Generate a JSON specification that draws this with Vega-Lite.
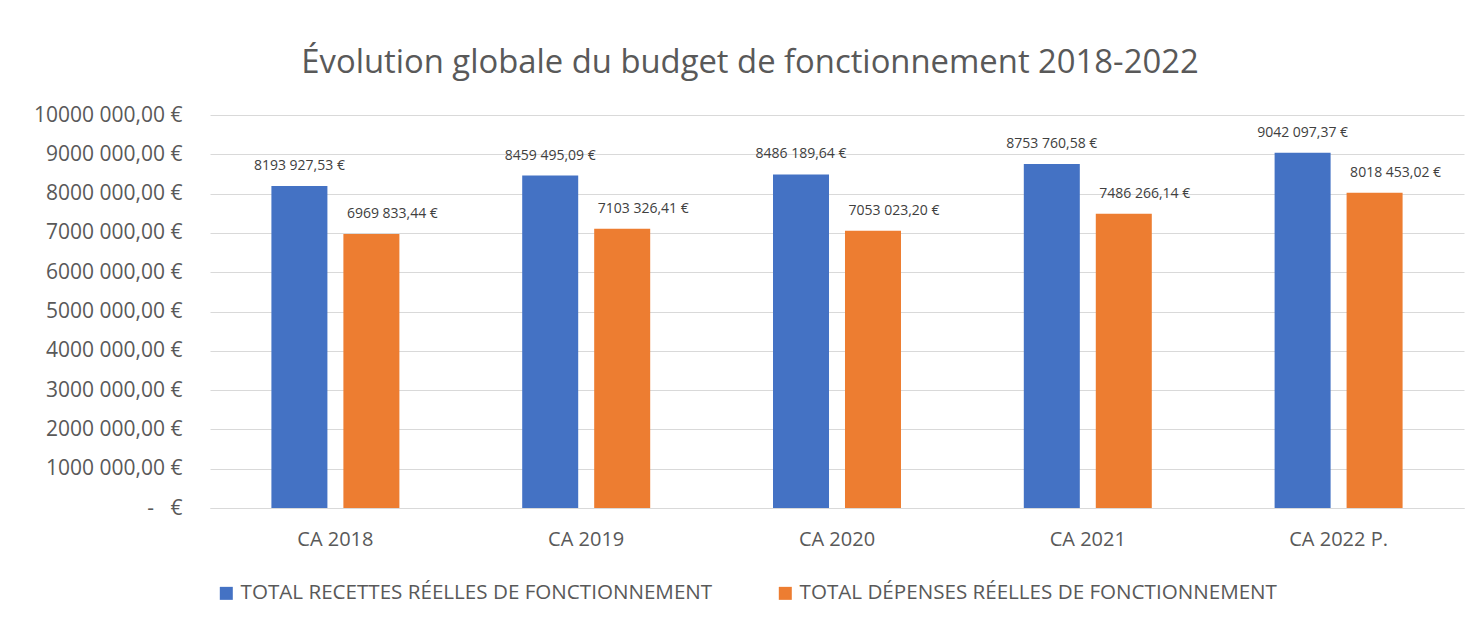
{
  "$schema": "https://vega.github.io/schema/vega-lite/v6.json",
  "width": 1254,
  "height": 393,
  "autosize": "none",
  "padding": {"left": 210, "top": 115, "right": 20, "bottom": 116},
  "background": "white",
  "config": {
    "locale": {"number": {"decimal": ",", "thousands": " ", "grouping": [3, 100], "currency": ["", " €"]}},
    "view": {"stroke": null},
    "font": "Open Sans"
  },
  "title": {
    "text": "Évolution globale du budget de fonctionnement 2018-2022",
    "fontSize": 32.8,
    "font": "Open Sans",
    "fontWeight": "normal",
    "color": "#595959",
    "anchor": "middle",
    "dx": -87,
    "offset": 24
  },
  "data": {
    "values": [
      {"cat": "CA 2018", "serie": "TOTAL RECETTES RÉELLES DE FONCTIONNEMENT", "value": 8193927.53},
      {"cat": "CA 2018", "serie": "TOTAL DÉPENSES RÉELLES DE FONCTIONNEMENT", "value": 6969833.44},
      {"cat": "CA 2019", "serie": "TOTAL RECETTES RÉELLES DE FONCTIONNEMENT", "value": 8459495.09},
      {"cat": "CA 2019", "serie": "TOTAL DÉPENSES RÉELLES DE FONCTIONNEMENT", "value": 7103326.41},
      {"cat": "CA 2020", "serie": "TOTAL RECETTES RÉELLES DE FONCTIONNEMENT", "value": 8486189.64},
      {"cat": "CA 2020", "serie": "TOTAL DÉPENSES RÉELLES DE FONCTIONNEMENT", "value": 7053023.20},
      {"cat": "CA 2021", "serie": "TOTAL RECETTES RÉELLES DE FONCTIONNEMENT", "value": 8753760.58},
      {"cat": "CA 2021", "serie": "TOTAL DÉPENSES RÉELLES DE FONCTIONNEMENT", "value": 7486266.14},
      {"cat": "CA 2022 P.", "serie": "TOTAL RECETTES RÉELLES DE FONCTIONNEMENT", "value": 9042097.37},
      {"cat": "CA 2022 P.", "serie": "TOTAL DÉPENSES RÉELLES DE FONCTIONNEMENT", "value": 8018453.02}
    ]
  },
  "encoding": {
    "x": {
      "field": "cat",
      "type": "nominal",
      "sort": null,
      "scale": {"paddingInner": 0, "paddingOuter": 0},
      "axis": {
        "title": null,
        "labelAngle": 0,
        "labelFontSize": 20,
        "labelColor": "#595959",
        "labelPadding": 21,
        "ticks": false,
        "domainColor": "#D9D9D9",
        "domainWidth": 1
      }
    },
    "xOffset": {
      "field": "serie",
      "sort": null,
      "scale": {"paddingInner": 0.222, "paddingOuter": 0.853}
    },
    "y": {
      "field": "value",
      "type": "quantitative",
      "scale": {"domain": [0, 10000000], "nice": false},
      "axis": {
        "title": null,
        "values": [0, 1000000, 2000000, 3000000, 4000000, 5000000, 6000000, 7000000, 8000000, 9000000, 10000000],
        "labelExpr": "datum.value == 0 ? '-\u00a0\u00a0\u00a0€' : format(datum.value, '$,.2f')",
        "labelFontSize": 21,
        "labelColor": "#595959",
        "labelPadding": 28,
        "ticks": false,
        "domain": false,
        "grid": true,
        "gridColor": "#D9D9D9",
        "gridWidth": 1
      }
    }
  },
  "layer": [
    {
      "mark": {"type": "bar"},
      "encoding": {
        "color": {
          "field": "serie",
          "type": "nominal",
          "sort": null,
          "scale": {
            "domain": ["TOTAL RECETTES RÉELLES DE FONCTIONNEMENT", "TOTAL DÉPENSES RÉELLES DE FONCTIONNEMENT"],
            "range": ["#4472C4", "#ED7D31"]
          },
          "legend": {
            "orient": "none",
            "legendX": 6,
            "legendY": 468,
            "direction": "horizontal",
            "title": null,
            "symbolType": "square",
            "symbolSize": 169,
            "symbolStrokeWidth": 0,
            "labelFontSize": 20.6,
            "labelColor": "#595959",
            "labelLimit": 1000,
            "columnPadding": 62,
            "labelOffset": 4
          }
        }
      }
    },
    {
      "transform": [{"filter": "datum.serie == 'TOTAL RECETTES RÉELLES DE FONCTIONNEMENT'"}],
      "mark": {"type": "text", "dy": -13, "baseline": "bottom", "fontSize": 14, "color": "#404040"},
      "encoding": {
        "text": {"field": "value", "type": "quantitative", "format": "$,.2f"}
      }
    },
    {
      "transform": [{"filter": "datum.serie == 'TOTAL DÉPENSES RÉELLES DE FONCTIONNEMENT'"}],
      "mark": {"type": "text", "dy": -13, "dx": 21, "baseline": "bottom", "fontSize": 14, "color": "#404040"},
      "encoding": {
        "text": {"field": "value", "type": "quantitative", "format": "$,.2f"}
      }
    }
  ]
}
